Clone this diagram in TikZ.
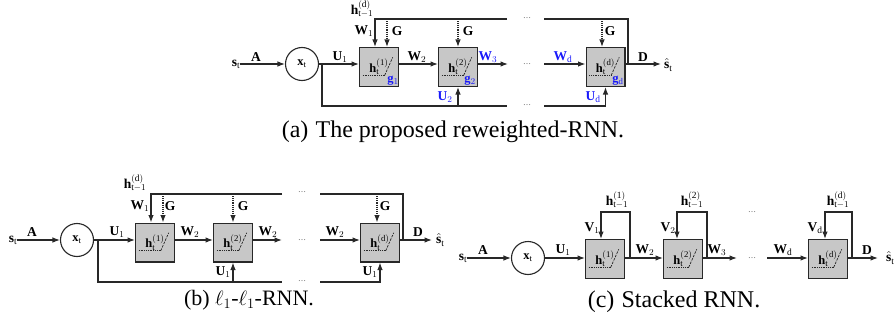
\documentclass[tikz,border=0pt]{standalone}
\usepackage{fontspec}
\setmainfont{Liberation Serif}
\usetikzlibrary{arrows.meta}
\definecolor{bl}{RGB}{25,25,250}
\definecolor{ln}{RGB}{40,40,40}
\newcommand{\hb}[1]{\raisebox{1.5pt}{$\mathbf{h}_{\mathrm{t}}^{(\mathrm{#1})}$}}
\newcommand{\hp}[1]{$\mathbf{h}_{\mathrm{t}-1}^{(\mathrm{#1})}$}
\tikzset{
  conn/.style={draw=ln, line width=1.1pt},
  arr/.style={conn, -{Latex[length=7.5pt,width=5.5pt]}},
  dotarr/.style={arr, densely dotted},
  blk/.style={rectangle, draw=ln, line width=1.4pt, fill=black!22,
    minimum size=38.6pt, inner sep=0pt, font=\fontsize{12.5}{12.5}\selectfont,
    path picture={
      \draw[densely dotted, line width=0.8pt]
        ([xshift=3pt,yshift=11pt]path picture bounding box.south west) --
        ([xshift=25pt,yshift=11pt]path picture bounding box.south west);
      \draw[dash pattern=on 2.5pt off 1.2pt, line width=0.7pt]
        ([xshift=25pt,yshift=11pt]path picture bounding box.south west) --
        ([xshift=33pt,yshift=29pt]path picture bounding box.south west);
    }},
  circ/.style={circle, draw=ln, line width=1.1pt, minimum size=33pt, inner sep=0pt,
    font=\fontsize{12.5}{12.5}\selectfont},
  lbl/.style={inner sep=0pt, font=\fontsize{13.5}{13.5}\selectfont},
  blbl/.style={lbl, text=bl},
  glbl/.style={inner sep=0pt, font=\fontsize{12.5}{12.5}\selectfont, text=bl},
  dts/.style={inner sep=0pt, font=\fontsize{8}{8}\selectfont, text=black!75},
  captxt/.style={inner sep=0pt, font=\fontsize{24}{24}\selectfont},
}
\begin{document}
\begin{tikzpicture}[x=1pt,y=-1pt]
\useasboundingbox (0,0) rectangle (894,329);

% ================= panel (a) =================
\node[lbl] (as) at (236,64) {$\mathbf{s}_{\mathrm{t}}$};
\node[circ] (ax) at (302,64) {$\mathbf{x}_{\mathrm{t}}$};
\node[blk] (a1) at (379,67) {\hb{1}};
\node[blk] (a2) at (458,67) {\hb{2}};
\node[blk] (ad) at (605.5,67) {\hb{d}};
\coordinate (aj) at (322,64);
\coordinate (abl) at (322,106);
\coordinate (ab1) at (507,106);
\coordinate (ab2) at (544,106);
\coordinate (atl) at (375,19);
\coordinate (at1) at (507,19);
\coordinate (at2) at (544,19);
\coordinate (atr) at (628,19);
\coordinate (aw3) at (508,64);
\coordinate (awd) at (544,64);
\coordinate (aout) at (661,64);
\node[lbl, anchor=west] (ash) at (664,65) {$\hat{\mathbf{s}}_{\mathrm{t}}$};

\draw[arr] (as) -- (ax);
\draw[arr] (ax) -- (ax -| a1.west);
\draw[arr] (a1.east |- ax) -- (a2.west |- ax);
\draw[arr] (a2.east |- ax) -- (aw3);
\draw[arr] (awd) -- (ad.west |- awd);
\draw[arr] (ad.east |- ax) -- (aout);
\draw[conn] (aj) -- (abl) -- (ab1);
\draw[arr] (ab2) -| (ad.south);
\draw[arr] (a2.south |- abl) -- (a2.south);
\draw[arr] (at1) -- (atl) -- (atl |- a1.north);
\draw[conn] (at2) -- (atr) -- (atr |- ax);
\draw[dotarr] ([xshift=8pt]a1.north |- atl) -- ([xshift=8pt]a1.north);
\draw[dotarr] (a2.north |- atl) -- (a2.north);
\draw[dotarr] ([xshift=-3.5pt]ad.north |- atl) -- ([xshift=-3.5pt]ad.north);

\node[lbl] (laA) at (256,57) {$\mathbf{A}$};
\node[lbl] (laU1) at (340,57) {$\mathbf{U}_1$};
\node[lbl] (laW2) at (417,57) {$\mathbf{W}_2$};
\node[blbl] (laW3) at (488,57) {$\mathbf{W}_3$};
\node[blbl] (laWd) at (563,57) {$\mathbf{W}_{\mathrm{d}}$};
\node[lbl] (laD) at (643,57) {$\mathbf{D}$};
\node[lbl] (laW1) at (364,31) {$\mathbf{W}_1$};
\node[lbl] (laG1) at (397,31) {$\mathbf{G}$};
\node[lbl] (laG2) at (468,31) {$\mathbf{G}$};
\node[lbl] (laGd) at (610,31) {$\mathbf{G}$};
\node[lbl] (lah) at (362,9) {\hp{d}};
\node[blbl] (laU2) at (445,97) {$\mathbf{U}_2$};
\node[blbl] (laUd) at (593,97) {$\mathbf{U}_{\mathrm{d}}$};
\node[glbl] (lag1) at (393,81) {$\mathbf{g}_1$};
\node[glbl] (lag2) at (470,81) {$\mathbf{g}_2$};
\node[glbl] (lagd) at (618,81) {$\mathbf{g}_{\mathrm{d}}$};
\node[dts] (ad1) at (527,18) {\dots};
\node[dts] (ad2) at (527,64) {\dots};
\node[dts] (ad3) at (527,105) {\dots};
\node[captxt] (capa) at (453,132) {(a)\hspace{0.3em}The proposed reweighted-RNN.};

% ================= panel (b) =================
\node[lbl] (bs) at (13,240) {$\mathbf{s}_{\mathrm{t}}$};
\node[circ] (bx) at (77,240) {$\mathbf{x}_{\mathrm{t}}$};
\node[blk] (b1) at (155,242.5) {\hb{1}};
\node[blk] (b2) at (233,242.5) {\hb{2}};
\node[blk] (bd) at (380,242.5) {\hb{d}};
\coordinate (bj) at (98,240);
\coordinate (bbl) at (98,282);
\coordinate (bb1) at (282,282);
\coordinate (bb2) at (320,282);
\coordinate (btl) at (151,194);
\coordinate (bt1) at (282,194);
\coordinate (bt2) at (320,194);
\coordinate (btr) at (403,194);
\coordinate (bw3) at (282,240);
\coordinate (bwd) at (320,240);
\coordinate (bout) at (432,240);
\node[lbl, anchor=west] (bsh) at (436,240) {$\hat{\mathbf{s}}_{\mathrm{t}}$};

\draw[arr] (bs) -- (bx);
\draw[arr] (bx) -- (bx -| b1.west);
\draw[arr] (b1.east |- bx) -- (b2.west |- bx);
\draw[arr] (b2.east |- bx) -- (bw3);
\draw[arr] (bwd) -- (bd.west |- bwd);
\draw[arr] (bd.east |- bx) -- (bout);
\draw[conn] (bj) -- (bbl) -- (bb1);
\draw[arr] (bb2) -| (bd.south);
\draw[arr] (b2.south |- bbl) -- (b2.south);
\draw[arr] (bt1) -- (btl) -- (btl |- b1.north);
\draw[conn] (bt2) -- (btr) -- (btr |- bx);
\draw[dotarr] ([xshift=8pt]b1.north |- btl) -- ([xshift=8pt]b1.north);
\draw[dotarr] (b2.north |- btl) -- (b2.north);
\draw[dotarr] ([xshift=-3pt]bd.north |- btl) -- ([xshift=-3pt]bd.north);

\node[lbl] (lbA) at (32,232) {$\mathbf{A}$};
\node[lbl] (lbU1) at (117,232) {$\mathbf{U}_1$};
\node[lbl] (lbW2a) at (190,232) {$\mathbf{W}_2$};
\node[lbl] (lbW2b) at (268,232) {$\mathbf{W}_2$};
\node[lbl] (lbW2c) at (335,232) {$\mathbf{W}_2$};
\node[lbl] (lbD) at (418,232) {$\mathbf{D}$};
\node[lbl] (lbW1) at (140,206) {$\mathbf{W}_1$};
\node[lbl] (lbG1) at (170,206) {$\mathbf{G}$};
\node[lbl] (lbG2) at (243,206) {$\mathbf{G}$};
\node[lbl] (lbGd) at (385,206) {$\mathbf{G}$};
\node[lbl] (lbh) at (135,183) {\hp{d}};
\node[lbl] (lbU2) at (223,272) {$\mathbf{U}_1$};
\node[lbl] (lbUd) at (370,272) {$\mathbf{U}_1$};
\node[dts] (bd1) at (302,192) {\dots};
\node[dts] (bd2) at (302,240) {\dots};
\node[dts] (bd3) at (302,281) {\dots};
\node[captxt, font=\fontsize{22}{22}\selectfont] (capb) at (249,300) {(b)\hspace{0.25em}$\ell_1$-$\ell_1$-RNN.};

% ================= panel (c) =================
\node[lbl] (cs) at (463,258) {$\mathbf{s}_{\mathrm{t}}$};
\node[circ] (cx) at (528,258) {$\mathbf{x}_{\mathrm{t}}$};
\node[blk] (c1) at (605,259) {\hb{1}};
\node[blk] (c2) at (683,259) {\hb{2}};
\node[blk] (cd) at (828,259) {\hb{d}};
\coordinate (cf1) at (630,258);
\coordinate (cf1t) at (630,212);
\coordinate (cf1l) at (601,212);
\coordinate (cf2) at (707,258);
\coordinate (cf2t) at (707,212);
\coordinate (cf2l) at (677,212);
\coordinate (cfd) at (852,258);
\coordinate (cfdt) at (852,212);
\coordinate (cfdl) at (825,212);
\coordinate (cw3) at (737,258);
\coordinate (cwd) at (767,258);
\coordinate (cout) at (878,258);
\node[lbl, anchor=west] (csh) at (886,258) {$\hat{\mathbf{s}}_{\mathrm{t}}$};

\draw[arr] (cs) -- (cx);
\draw[arr] (cx) -- (cx -| c1.west);
\draw[arr] (c1.east |- cx) -- (c2.west |- cx);
\draw[arr] (c2.east |- cx) -- (cw3);
\draw[arr] (cwd) -- (cd.west |- cwd);
\draw[arr] (cd.east |- cx) -- (cout);
\draw[arr] (cf1) -- (cf1t) -- (cf1l) -- (cf1l |- c1.north);
\draw[arr] (cf2) -- (cf2t) -- (cf2l) -- (cf2l |- c2.north);
\draw[arr] (cfd) -- (cfdt) -- (cfdl) -- (cfdl |- cd.north);

\node[lbl] (lcA) at (483,250) {$\mathbf{A}$};
\node[lbl] (lcU1) at (563,250) {$\mathbf{U}_1$};
\node[lbl] (lcW2) at (645,250) {$\mathbf{W}_2$};
\node[lbl] (lcW3) at (717,250) {$\mathbf{W}_3$};
\node[lbl] (lcWd) at (783,250) {$\mathbf{W}_{\mathrm{d}}$};
\node[lbl] (lcD) at (867,250) {$\mathbf{D}$};
\node[lbl] (lcV1) at (592,228) {$\mathbf{V}_1$};
\node[lbl] (lcV2) at (668,228) {$\mathbf{V}_2$};
\node[lbl] (lcVd) at (815,228) {$\mathbf{V}_{\mathrm{d}}$};
\node[lbl] (lch1) at (617,200) {\hp{1}};
\node[lbl] (lch2) at (692,200) {\hp{2}};
\node[lbl] (lchd) at (838,200) {\hp{d}};
\node[dts] (cd1) at (752,212) {\dots};
\node[dts] (cd2) at (752,258) {\dots};
\node[captxt] (capc) at (674,302) {(c)\hspace{0.3em}Stacked RNN.};
\end{tikzpicture}
\end{document}
